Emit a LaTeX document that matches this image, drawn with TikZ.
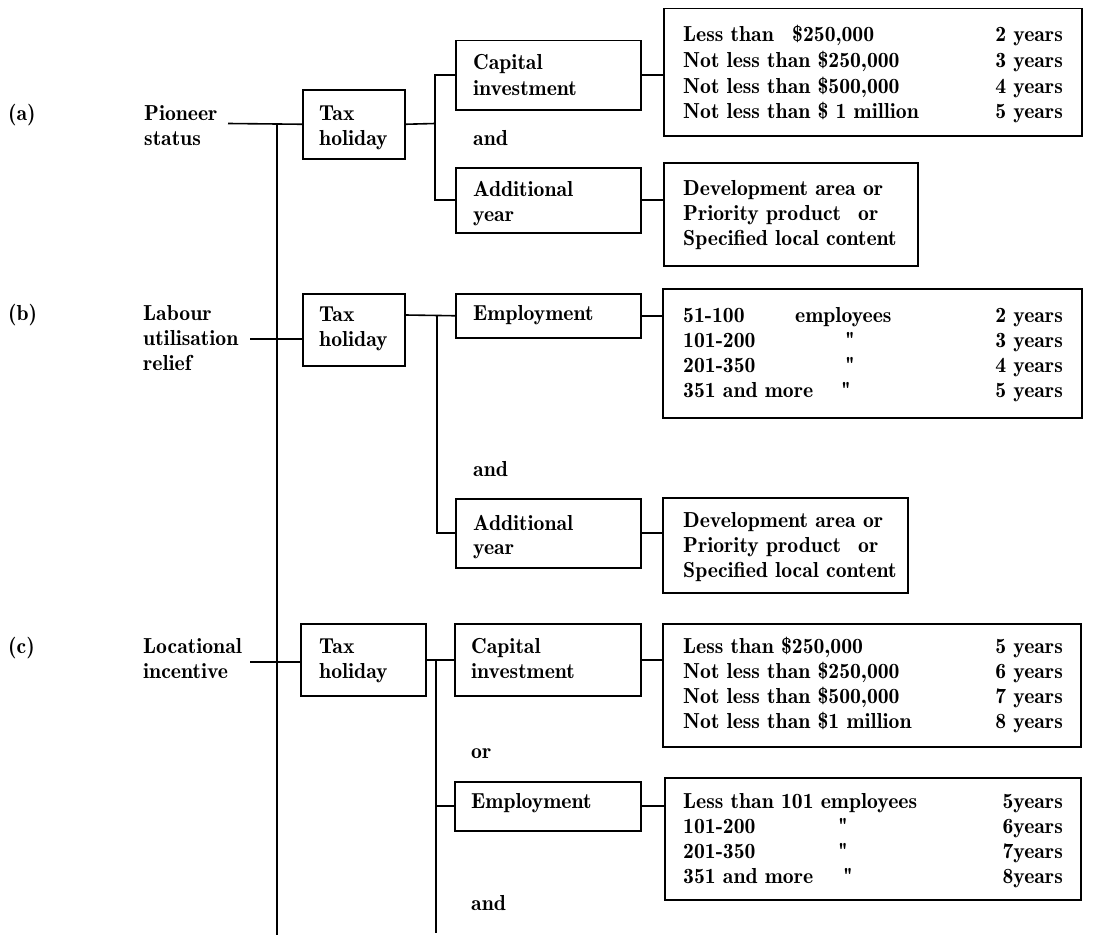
\documentclass[tikz,border=0pt]{standalone}
\usepackage{fontspec}
\setmainfont{lmromandemi10-regular.otf}
\begin{document}
\begin{tikzpicture}[x=1pt,y=-1pt,
  bx/.style={draw,line width=1.5pt,inner sep=0pt,anchor=north west},
  tx/.style={inner sep=0pt,anchor=base west},
  rt/.style={inner sep=0pt,anchor=base east},
  ln/.style={line width=1.6pt}]
\useasboundingbox (0,0) rectangle (1113,942);
\fontsize{21.7}{25}\selectfont
% ---------- boxes ----------
\node[bx,minimum width=102pt,minimum height=69pt] (ta) at (302,89) {};
\node[bx,minimum width=185pt,minimum height=69pt] (ca) at (455,40) {};
\node[bx,minimum width=185pt,minimum height=65pt] (aa) at (455,167) {};
\node[bx,minimum width=418pt,minimum height=127pt] (ra) at (663,8) {};
\node[bx,minimum width=254pt,minimum height=103pt] (da) at (663,162) {};
\node[bx,minimum width=102pt,minimum height=72pt] (tb) at (302,293) {};
\node[bx,minimum width=185pt,minimum height=44pt] (eb) at (455,293) {};
\node[bx,minimum width=185pt,minimum height=69pt] (ab) at (455,498) {};
\node[bx,minimum width=419pt,minimum height=129pt] (rb) at (662,288) {};
\node[bx,minimum width=245pt,minimum height=95pt] (db) at (662,497) {};
\node[bx,minimum width=125pt,minimum height=72pt] (tc) at (300,623) {};
\node[bx,minimum width=186pt,minimum height=72pt] (cc) at (454,623) {};
\node[bx,minimum width=186pt,minimum height=49pt] (ec) at (454,781) {};
\node[bx,minimum width=418pt,minimum height=123pt] (rc) at (662,623) {};
\node[bx,minimum width=416pt,minimum height=122pt] (rd) at (664,777) {};
% ---------- coordinates ----------
\coordinate (la) at (228,123.5);
\coordinate (lb) at (250,339);
\coordinate (lc) at (250,662);
\coordinate (mtop) at (277,123.5);
\coordinate (mbot) at (277,935);
\coordinate (ja) at (435,123.5);
\coordinate (jb) at (437,315);
\coordinate (jc) at (436,659.5);
\coordinate (jcb) at (436,933);
% ---------- connectors ----------
\draw[ln] (mtop) -- (mbot);
\draw[ln] (la) -- (ta.west);
\draw[ln] (ta.east) -- (ja);
\draw[ln] (ca.west) -| (ja) |- (aa.west);
\draw[ln] (ca.east) -- (ra.west |- ca.east);
\draw[ln] (aa.east) -- (da.west |- aa.east);
\draw[ln] (lb) -- (tb.west |- lb);
\draw[ln] (tb.east |- jb) -- (eb.west);
\draw[ln] (jb) |- (ab.west);
\draw[ln] (eb.east) -- (rb.west |- eb.east);
\draw[ln] (ab.east) -- (db.west |- ab.east);
\draw[ln] (lc) -- (tc.west |- lc);
\draw[ln] (tc.east) -- (cc.west);
\draw[ln] (jc) -- (jcb);
\draw[ln] (ec.west) -- (ec.west -| jc);
\draw[ln] (cc.east) -- (rc.west |- cc.east);
\draw[ln] (ec.east) -- (rd.west |- ec.east);
% ---------- left labels ----------
\node[tx] (pa) at (8,120) {(a)};
\node[tx] (pa1) at (144,120) {Pioneer};
\node[tx] (pa2) at (144,145) {status};
\node[tx] (pb) at (8,320) {(b)};
\node[tx] (pb1) at (143,320) {Labour};
\node[tx] (pb2) at (143,345) {utilisation};
\node[tx] (pb3) at (143,370) {relief};
\node[tx] (pc) at (8,653) {(c)};
\node[tx] (pc1) at (143,653) {Locational};
\node[tx] (pc2) at (143,678) {incentive};
% ---------- (a) texts ----------
\node[tx] (ta1) at (319,120) {Tax};
\node[tx] (ta2) at (319,145) {holiday};
\node[tx] (ca1) at (473,70) {Capital};
\node[tx] (ca2) at (473,95) {investment};
\node[tx] (anda) at (473,145) {and};
\node[tx] (aa1) at (473,196) {Additional};
\node[tx] (aa2) at (473,221) {year};
\node[tx] (ra1) at (683,42) {Less than};
\node[tx] (ra1b) at (792,42) {\$250,000};
\node[tx] (ra2) at (683,67) {Not less than \$250,000};
\node[tx] (ra3) at (683,93) {Not less than \$500,000};
\node[tx] (ra4) at (683,118) {Not less than \$ 1 million};
\node[rt] (ry1) at (1063,42) {2 years};
\node[rt] (ry2) at (1063,67) {3 years};
\node[rt] (ry3) at (1063,93) {4 years};
\node[rt] (ry4) at (1063,118) {5 years};
\node[tx] (da1) at (683,195) {Development area or};
\node[tx] (da2) at (683,220) {Priority product};
\node[tx] (da2b) at (858,220) {or};
\node[tx] (da3) at (683,245) {Specified local content};
% ---------- (b) texts ----------
\node[tx] (tb1) at (319,321) {Tax};
\node[tx] (tb2) at (319,346) {holiday};
\node[tx] (eb1) at (473,320) {Employment};
\node[tx] (andb) at (473,476) {and};
\node[tx] (ab1) at (473,530) {Additional};
\node[tx] (ab2) at (473,554) {year};
\node[tx] (rb1) at (683,322) {51-100};
\node[tx] (rb1b) at (795,322) {employees};
\node[tx] (rb2) at (683,347) {101-200};
\node[tx] (rb2b) at (845,347) {\textquotedbl};
\node[tx] (rb3) at (683,372) {201-350};
\node[tx] (rb3b) at (845,372) {\textquotedbl};
\node[tx] (rb4) at (683,397) {351 and more};
\node[tx] (rb4b) at (841,397) {\textquotedbl};
\node[rt] (rby1) at (1063,322) {2 years};
\node[rt] (rby2) at (1063,347) {3 years};
\node[rt] (rby3) at (1063,372) {4 years};
\node[rt] (rby4) at (1063,397) {5 years};
\node[tx] (db1) at (683,527) {Development area or};
\node[tx] (db2) at (683,552) {Priority product};
\node[tx] (db2b) at (858,552) {or};
\node[tx] (db3) at (683,577) {Specified local content};
% ---------- (c) texts ----------
\node[tx] (tc1) at (319,653) {Tax};
\node[tx] (tc2) at (319,678) {holiday};
\node[tx] (cc1) at (471,653) {Capital};
\node[tx] (cc2) at (471,678) {investment};
\node[tx] (orc) at (471,758) {or};
\node[tx] (ec1) at (471,808) {Employment};
\node[tx] (andc) at (471,910) {and};
\node[tx] (rc1) at (683,653) {Less than \$250,000};
\node[tx] (rc2) at (683,678) {Not less than \$250,000};
\node[tx] (rc3) at (683,703) {Not less than \$500,000};
\node[tx] (rc4) at (683,728) {Not less than \$1 million};
\node[rt] (rcy1) at (1063,653) {5 years};
\node[rt] (rcy2) at (1063,678) {6 years};
\node[rt] (rcy3) at (1063,703) {7 years};
\node[rt] (rcy4) at (1063,728) {8 years};
\node[tx] (rd1) at (683,808) {Less than 101 employees};
\node[tx] (rd2) at (683,833) {101-200};
\node[tx] (rd2b) at (838,833) {\textquotedbl};
\node[tx] (rd3) at (683,858) {201-350};
\node[tx] (rd3b) at (838,858) {\textquotedbl};
\node[tx] (rd4) at (683,883) {351 and more};
\node[tx] (rd4b) at (843,883) {\textquotedbl};
\node[rt] (rdy1) at (1063,808) {5years};
\node[rt] (rdy2) at (1063,833) {6years};
\node[rt] (rdy3) at (1063,858) {7years};
\node[rt] (rdy4) at (1063,883) {8years};
\end{tikzpicture}
\end{document}
